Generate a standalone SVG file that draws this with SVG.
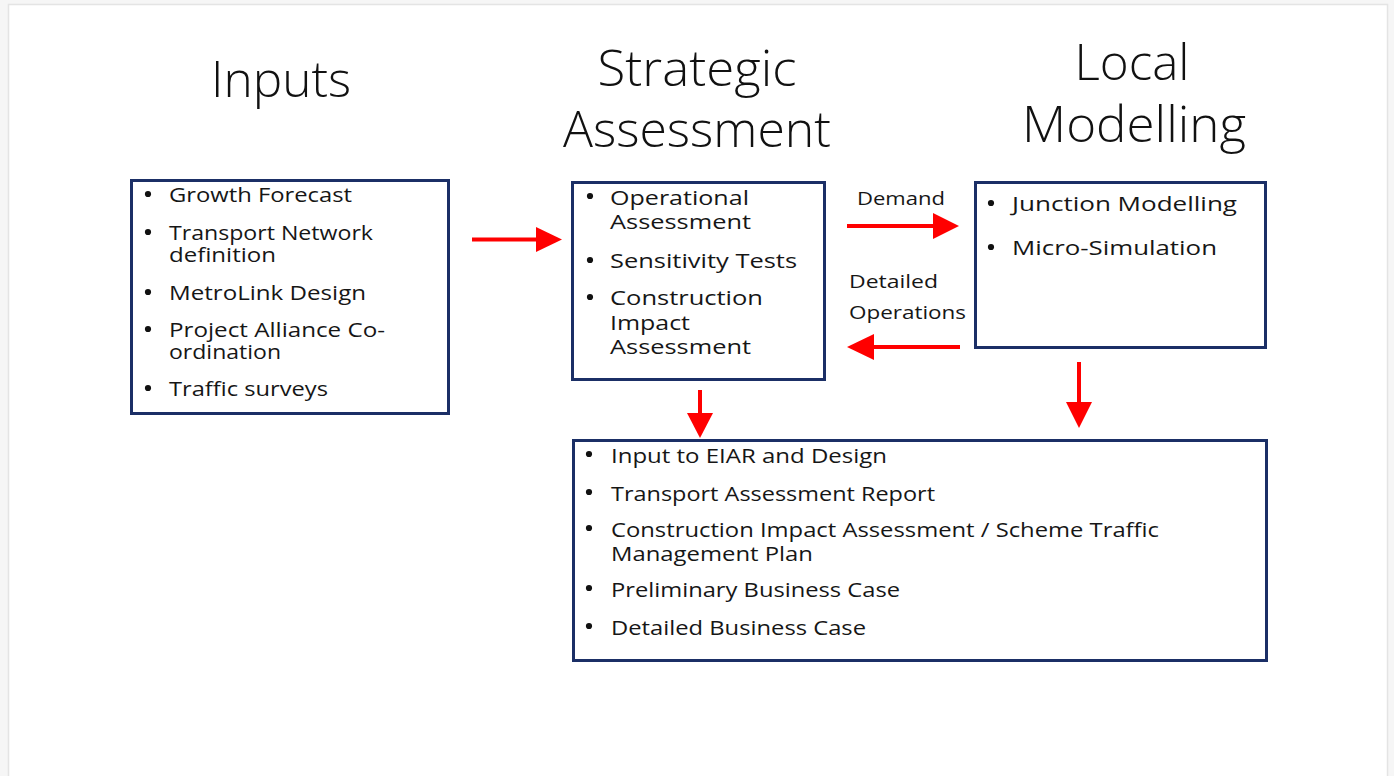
<svg xmlns="http://www.w3.org/2000/svg" width="1394" height="776" viewBox="0 0 1394 776">
  <defs>
    <style>
      .title { font-family: "Open Sans", "Liberation Sans", sans-serif; font-weight: 300; font-size: 49px; fill: #111; }
      .item { font-family: "Open Sans", "Liberation Sans", sans-serif; font-size: 20.5px; fill: #161616; }
      .lbl { font-family: "Open Sans", "Liberation Sans", sans-serif; font-size: 19px; fill: #161616; }
      .box { fill: #ffffff; stroke: #1b2f66; stroke-width: 3; }
      .bullet { fill: #111; }
      .shaft { stroke: #ff0000; stroke-width: 4; fill: none; }
      .head { fill: #ff0000; }
    </style>
  </defs>

  <!-- page -->
  <rect x="0" y="0" width="1394" height="776" fill="#f6f6f6"/>
  <rect x="8.5" y="4.5" width="1379" height="780" fill="#ffffff" stroke="#e4e4e4" stroke-width="1.5"/>

  <!-- column headings -->
  <g id="headings">
    <text class="title" x="281" y="97" text-anchor="middle" textLength="140" lengthAdjust="spacingAndGlyphs">Inputs</text>
    <text class="title" x="697" y="86" text-anchor="middle" textLength="199" lengthAdjust="spacingAndGlyphs">Strategic</text>
    <text class="title" x="697" y="147" text-anchor="middle" textLength="268" lengthAdjust="spacingAndGlyphs">Assessment</text>
    <text class="title" x="1132" y="80" text-anchor="middle" textLength="115" lengthAdjust="spacingAndGlyphs">Local</text>
    <text class="title" x="1134" y="142" text-anchor="middle" textLength="224" lengthAdjust="spacingAndGlyphs">Modelling</text>
  </g>

  <!-- Inputs -->
  <g id="inputs">
    <rect class="box" x="131.5" y="180.5" width="317" height="233"/>
    <circle class="bullet" cx="148" cy="194" r="3.1"/>
    <text class="item" x="169" y="202" textLength="183" lengthAdjust="spacingAndGlyphs">Growth Forecast</text>
    <circle class="bullet" cx="148" cy="232" r="3.1"/>
    <text class="item" x="169" y="240" textLength="204" lengthAdjust="spacingAndGlyphs">Transport Network</text>
    <text class="item" x="169" y="262" textLength="107" lengthAdjust="spacingAndGlyphs">definition</text>
    <circle class="bullet" cx="148" cy="292" r="3.1"/>
    <text class="item" x="169" y="300" textLength="197" lengthAdjust="spacingAndGlyphs">MetroLink Design</text>
    <circle class="bullet" cx="148" cy="329" r="3.1"/>
    <text class="item" x="169" y="337" textLength="216" lengthAdjust="spacingAndGlyphs">Project Alliance Co-</text>
    <text class="item" x="169" y="359" textLength="112" lengthAdjust="spacingAndGlyphs">ordination</text>
    <circle class="bullet" cx="148" cy="388" r="3.1"/>
    <text class="item" x="169" y="396" textLength="159" lengthAdjust="spacingAndGlyphs">Traffic surveys</text>
  </g>

  <!-- Strategic Assessment -->
  <g id="strategic">
    <rect class="box" x="572.5" y="182.5" width="252" height="197"/>
    <circle class="bullet" cx="590" cy="196" r="3.1"/>
    <text class="item" x="610" y="205" textLength="139" lengthAdjust="spacingAndGlyphs">Operational</text>
    <text class="item" x="610" y="229" textLength="141" lengthAdjust="spacingAndGlyphs">Assessment</text>
    <circle class="bullet" cx="590" cy="260" r="3.1"/>
    <text class="item" x="610" y="268" textLength="187" lengthAdjust="spacingAndGlyphs">Sensitivity Tests</text>
    <circle class="bullet" cx="590" cy="297" r="3.1"/>
    <text class="item" x="610" y="305" textLength="153" lengthAdjust="spacingAndGlyphs">Construction</text>
    <text class="item" x="610" y="330" textLength="80" lengthAdjust="spacingAndGlyphs">Impact</text>
    <text class="item" x="610" y="354" textLength="141" lengthAdjust="spacingAndGlyphs">Assessment</text>
  </g>

  <!-- Local Modelling -->
  <g id="local">
    <rect class="box" x="975.5" y="182.5" width="290" height="165"/>
    <circle class="bullet" cx="991" cy="203" r="3.1"/>
    <text class="item" x="1012" y="211" textLength="225" lengthAdjust="spacingAndGlyphs">Junction Modelling</text>
    <circle class="bullet" cx="991" cy="247" r="3.1"/>
    <text class="item" x="1012" y="255" textLength="205" lengthAdjust="spacingAndGlyphs">Micro-Simulation</text>
  </g>

  <!-- Outputs -->
  <g id="outputs">
    <rect class="box" x="573.5" y="440.5" width="693" height="220"/>
    <circle class="bullet" cx="589" cy="454" r="3.1"/>
    <text class="item" x="611" y="463" textLength="276" lengthAdjust="spacingAndGlyphs">Input to EIAR and Design</text>
    <circle class="bullet" cx="589" cy="492" r="3.1"/>
    <text class="item" x="611" y="501" textLength="324" lengthAdjust="spacingAndGlyphs">Transport Assessment Report</text>
    <circle class="bullet" cx="589" cy="528" r="3.1"/>
    <text class="item" x="611" y="537" textLength="548" lengthAdjust="spacingAndGlyphs">Construction Impact Assessment / Scheme Traffic</text>
    <text class="item" x="611" y="561" textLength="202" lengthAdjust="spacingAndGlyphs">Management Plan</text>
    <circle class="bullet" cx="589" cy="588" r="3.1"/>
    <text class="item" x="611" y="597" textLength="289" lengthAdjust="spacingAndGlyphs">Preliminary Business Case</text>
    <circle class="bullet" cx="589" cy="626" r="3.1"/>
    <text class="item" x="611" y="635" textLength="255" lengthAdjust="spacingAndGlyphs">Detailed Business Case</text>
  </g>

  <!-- connectors -->
  <g id="connectors">
    <!-- inputs to strategic -->
    <line class="shaft" x1="472" y1="239.5" x2="538" y2="239.5"/>
    <polygon class="head" points="536,227 562,239.5 536,252"/>
    <!-- demand -->
    <line class="shaft" x1="847" y1="226" x2="935" y2="226"/>
    <polygon class="head" points="933,213 959,226 933,239"/>
    <text class="lbl" x="857" y="205" textLength="88" lengthAdjust="spacingAndGlyphs">Demand</text>
    <!-- detailed operations -->
    <line class="shaft" x1="960" y1="347" x2="872" y2="347"/>
    <polygon class="head" points="874,334 847,347 874,360"/>
    <text class="lbl" x="849" y="288" textLength="89" lengthAdjust="spacingAndGlyphs">Detailed</text>
    <text class="lbl" x="849" y="319" textLength="117" lengthAdjust="spacingAndGlyphs">Operations</text>
    <!-- strategic to outputs -->
    <line class="shaft" x1="700" y1="390" x2="700" y2="415"/>
    <polygon class="head" points="687,413 700,438 713,413"/>
    <!-- local to outputs -->
    <line class="shaft" x1="1079" y1="362" x2="1079" y2="404"/>
    <polygon class="head" points="1066,402 1079,428 1092,402"/>
  </g>
</svg>
